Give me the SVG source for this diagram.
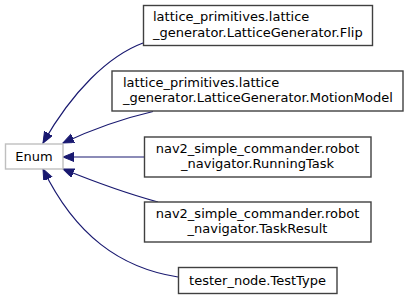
<svg xmlns="http://www.w3.org/2000/svg" width="409" height="299" viewBox="0 0 409 299">
<style>
text{font-family:"DejaVu Sans",sans-serif;font-size:13px;fill:#000}
.box{fill:#fff;stroke:#404040;stroke-width:1.4}
.base{fill:#fff;stroke:#bfbfbf;stroke-width:1.4}
.e{fill:none;stroke:#191970;stroke-width:1.2}
.c{text-anchor:middle}
</style>
<defs>
<marker id="ah" markerWidth="12" markerHeight="10" refX="11" refY="4.5" orient="auto" markerUnits="userSpaceOnUse">
<path d="M0,0 L11,4.5 L0,9 Z" fill="#191970" stroke="#191970"/>
</marker>
</defs>
<rect width="409" height="299" fill="#fff"/>
<g id="edges">
<path class="e" marker-end="url(#ah)" d="M143,43 C108,56 72,92 43,143"/>
<path class="e" marker-end="url(#ah)" d="M153,111.5 C125,118 95,128 63,143"/>
<path class="e" marker-end="url(#ah)" d="M144,157 L63,157"/>
<path class="e" marker-end="url(#ah)" d="M158,202 C125,193 95,182 63,169"/>
<path class="e" marker-end="url(#ah)" d="M178,277 C120,268 75,235 43,169"/>
</g>
<g id="Enum">
<rect class="base" x="5.5" y="144" width="57.5" height="25"/>
<text class="c" x="34" y="161">Enum</text>
</g>
<g id="Flip">
<rect class="box" x="143.5" y="5.5" width="229" height="40"/>
<text x="153" y="21">lattice_primitives.lattice</text>
<text x="153" y="36.5">_generator.LatticeGenerator.Flip</text>
</g>
<g id="MotionModel">
<rect class="box" x="112" y="71" width="291" height="40"/>
<text x="123" y="86.5">lattice_primitives.lattice</text>
<text x="123" y="102">_generator.LatticeGenerator.MotionModel</text>
</g>
<g id="RunningTask">
<rect class="box" x="144.5" y="137" width="226.5" height="40"/>
<text class="c" x="257.5" y="152.5">nav2_simple_commander.robot</text>
<text class="c" x="257.5" y="168">_navigator.RunningTask</text>
</g>
<g id="TaskResult">
<rect class="box" x="144.5" y="202" width="226.5" height="40"/>
<text class="c" x="257.5" y="217.5">nav2_simple_commander.robot</text>
<text class="c" x="257.5" y="233">_navigator.TaskResult</text>
</g>
<g id="TestType">
<rect class="box" x="178.5" y="267.5" width="158.5" height="26"/>
<text class="c" x="257.5" y="284.5">tester_node.TestType</text>
</g>
</svg>
